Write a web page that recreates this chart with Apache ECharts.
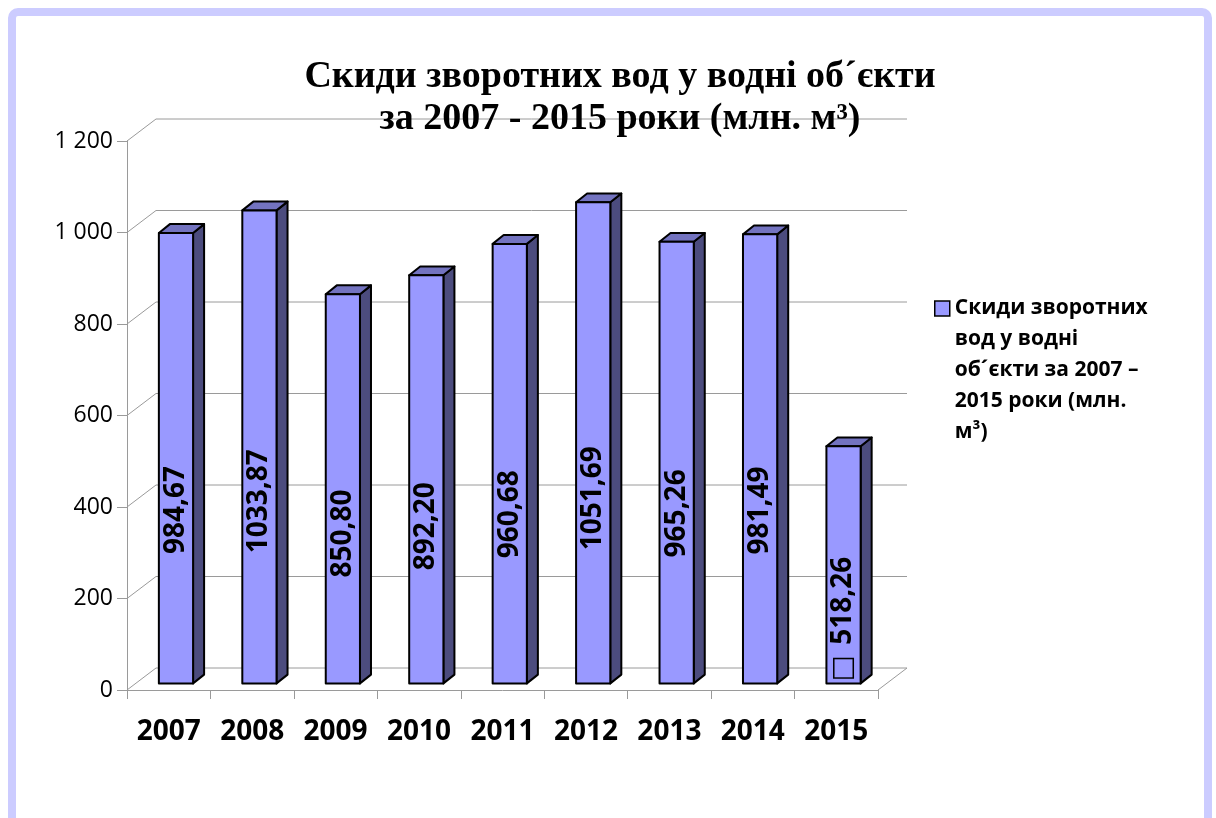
<!DOCTYPE html>
<html>
<head>
<meta charset="utf-8">
<script src="https://cdn.jsdelivr.net/npm/echarts@6/dist/echarts.min.js"></script>
<style>
  html, body { margin: 0; padding: 0; background: #fff; }
  #chart { width: 1216px; height: 818px; }
</style>
</head>
<body>
<div id="chart"></div>
<script>
const years = ['2007', '2008', '2009', '2010', '2011', '2012', '2013', '2014', '2015'];
const volumes = [984.67, 1033.87, 850.80, 892.20, 960.68, 1051.69, 965.26, 981.49, 518.26];
const yTicks = [0, 200, 400, 600, 800, 1000, 1200];
const seriesName = 'Скиди зворотних вод у водні об´єкти за 2007 – 2015 роки (млн. м³)';

// depth of the fake 3d box (pixels)
const DX = 29, DY = -22;
const gridColor = '#9a9a9a';
const sans = '"Open Sans", "Noto Sans", sans-serif';

const chart = echarts.init(document.getElementById('chart'));

function fmtVal(v) {
  return v.toFixed(2).replace('.', ',');
}

function renderWall(params, api) {
  const v = api.value(1);
  const p = api.coord([0, v]);
  const cs = params.coordSys;
  const left = cs.x, right = cs.x + cs.width, y = p[1];
  const st = { stroke: gridColor, lineWidth: 1, fill: null };
  const children = [
    { type: 'line', shape: { x1: left, y1: y, x2: left + DX, y2: y + DY }, style: st },
    { type: 'line', shape: { x1: left + DX, y1: y + DY, x2: right + DX, y2: y + DY }, style: st }
  ];
  if (v === 0) {
    children.push({ type: 'line', shape: { x1: right, y1: y, x2: right + DX, y2: y + DY }, style: st });
  }
  return { type: 'group', silent: true, children };
}

function renderBar(params, api) {
  const i = api.value(0), v = api.value(1);
  const base = api.coord([i, 0]);
  const top = api.coord([i, v]);
  const cw = api.size([1, 0])[0];
  const w = cw * 0.41;
  const fx = base[0] - w / 2 + DX * 0.25;
  const fy0 = base[1] + DY * 0.3;
  const fy1 = top[1] + DY * 0.3;
  const bx = DX * 0.38, by = DY * 0.4;
  const edge = { stroke: '#000', lineWidth: 2, lineJoin: 'round' };
  const last = i === volumes.length - 1;
  return {
    type: 'group',
    children: [
      { type: 'polygon', shape: { points: [[fx + w, fy0], [fx + w + bx, fy0 + by], [fx + w + bx, fy1 + by], [fx + w, fy1]] },
        style: Object.assign({ fill: '#4c4c7e' }, edge) },
      { type: 'polygon', shape: { points: [[fx, fy1], [fx + bx, fy1 + by], [fx + w + bx, fy1 + by], [fx + w, fy1]] },
        style: Object.assign({ fill: '#7373c0' }, edge) },
      { type: 'rect', shape: { x: fx, y: fy1, width: w, height: fy0 - fy1 },
        style: Object.assign({ fill: '#9999ff' }, edge) },
      { type: 'text', x: fx + w / 2, y: fy0 - (fy0 - fy1) * (last ? 0.28 : 0.385), rotation: Math.PI / 2,
        style: {
          text: last ? '{box|}  ' + fmtVal(v) : fmtVal(v),
          align: 'center', verticalAlign: 'middle',
          fill: '#000', fontFamily: sans, fontWeight: 'bold', fontSize: 28,
          rich: { box: { width: 18, height: 18, borderColor: '#000', borderWidth: 1.5, backgroundColor: '#9999ff' } }
        } }
    ]
  };
}

const option = {
  animation: false,
  backgroundColor: '#fff',
  graphic: [{
    type: 'rect', silent: true,
    shape: { x: 12, y: 12, width: 1196, height: 900, r: 6 },
    style: { fill: null, stroke: '#ccccff', lineWidth: 8 }
  }],
  title: {
    text: 'Скиди зворотних вод у водні об´єкти\nза 2007 - 2015 роки (млн. м³)',
    left: 615, top: 51, textAlign: 'center',
    textStyle: { fontFamily: '"Liberation Serif", serif', fontWeight: 'bold', fontSize: 38, lineHeight: 42, color: '#000' }
  },
  legend: {
    data: [seriesName],
    left: 929, top: 164,
    orient: 'vertical',
    icon: 'rect', itemWidth: 15, itemHeight: 15, itemGap: 0,
    itemStyle: { color: '#9999ff', borderColor: '#000', borderWidth: 1.5 },
    // blank lines first so the key sits beside the first text line
    formatter: () => '\n\n\n\nСкиди зворотних\nвод у водні\nоб´єкти за 2007 –\n2015 роки (млн.\nм³)',
    textStyle: { fontFamily: sans, fontWeight: 'bold', fontSize: 21, lineHeight: 31, color: '#000' }
  },
  grid: { left: 127, right: 338, top: 141, bottom: 128 },
  xAxis: {
    type: 'category',
    data: years,
    axisLine: { show: true, lineStyle: { color: gridColor, width: 1 } },
    axisTick: { show: true, alignWithLabel: false, length: 9, lineStyle: { color: gridColor } },
    axisLabel: { color: '#000', fontFamily: sans, fontWeight: 'bold', fontSize: 28, margin: 28 },
    splitLine: { show: false }
  },
  yAxis: {
    type: 'value',
    min: 0, max: 1200, interval: 200,
    axisLine: { show: true, lineStyle: { color: gridColor, width: 1 } },
    axisTick: { show: true, length: 10, lineStyle: { color: gridColor } },
    axisLabel: {
      color: '#000', fontFamily: sans, fontSize: 23, margin: 14,
      formatter: v => String(v).replace(/\B(?=(\d{3})+(?!\d))/g, ' ')
    },
    splitLine: { show: false }
  },
  series: [
    {
      type: 'custom', name: 'walls', z: 1, silent: true,
      renderItem: renderWall,
      data: yTicks.map(v => [0, v]),
      encode: { x: 0, y: 1 }
    },
    {
      type: 'custom', name: seriesName, z: 3,
      itemStyle: { color: '#9999ff' },
      renderItem: renderBar,
      data: volumes.map((v, i) => [i, v]),
      encode: { x: 0, y: 1 }
    }
  ]
};

chart.setOption(option);
</script>
</body>
</html>
